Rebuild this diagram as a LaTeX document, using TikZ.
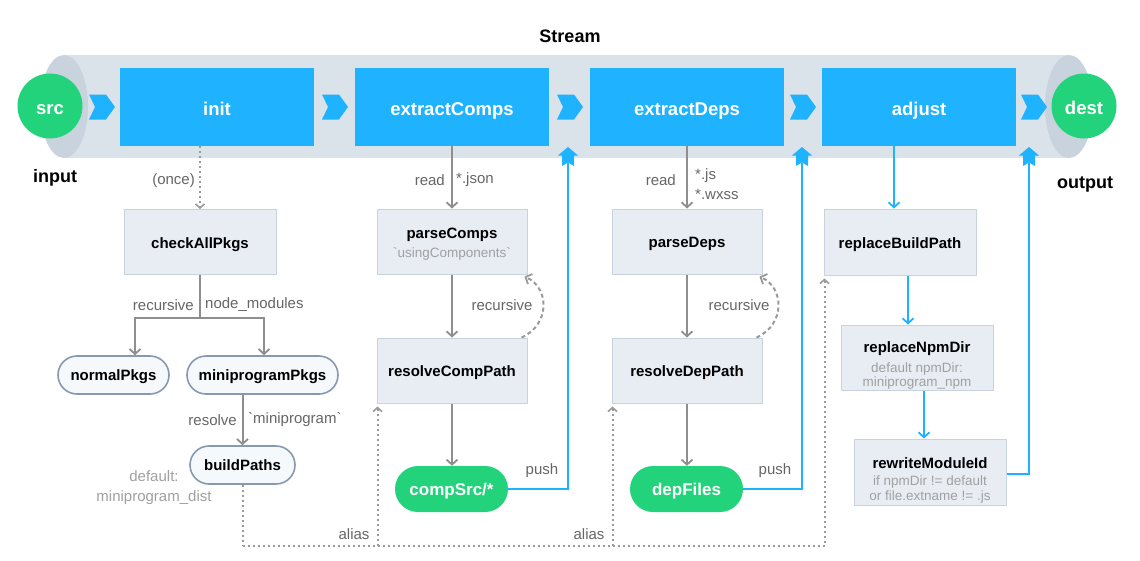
\documentclass[tikz,border=0pt]{standalone}
\usepackage{fontspec}
\setmainfont{Liberation Sans}[Ligatures=TeXOff]
\usetikzlibrary{arrows.meta,calc}
\definecolor{bl}{HTML}{1FB2FE}
\definecolor{gr}{HTML}{23D37B}
\definecolor{pipe}{HTML}{DAE2EA}
\definecolor{pipeend}{HTML}{C9D3DE}
\definecolor{boxf}{HTML}{E8EDF4}
\definecolor{boxd}{HTML}{C9D3DE}
\definecolor{pillf}{HTML}{F6F9FC}
\definecolor{pilld}{HTML}{8799AE}
\definecolor{arr}{HTML}{8E8E8E}
\definecolor{dotc}{HTML}{9A9A9A}
\definecolor{lab}{HTML}{666666}
\definecolor{subt}{HTML}{A0A0A0}
\begin{document}
\begin{tikzpicture}[x=1pt,y=-1pt,
  stage/.style={fill=bl, minimum width=194pt, minimum height=78pt, inner sep=0pt, text height=16pt, text depth=0pt, text=white, font=\fontsize{18.5}{20}\selectfont\bfseries},
  ball/.style={circle, fill=gr, minimum size=65pt, inner sep=0pt, text height=16pt, text depth=0pt, text=white, font=\fontsize{18.5}{20}\selectfont\bfseries},
  gbox/.style={fill=boxf, draw=boxd, line width=1pt, minimum width=152pt, minimum height=65pt, inner sep=0pt, text height=12pt, text depth=0pt, align=center, font=\fontsize{15}{17}\selectfont\bfseries},
  ttl/.style={inner sep=0pt, font=\fontsize{15}{17}\selectfont\bfseries},
  pill/.style={rounded corners=19pt, fill=pillf, draw=pilld, line width=1.6pt, minimum height=38pt, inner sep=0pt, text height=10.5pt, text depth=0pt, font=\fontsize{15}{17}\selectfont\bfseries},
  gpill/.style={rounded corners=23pt, fill=gr, minimum height=46pt, minimum width=113pt, inner sep=0pt, text height=12pt, text depth=0pt, text=white, font=\fontsize{17}{19}\selectfont\bfseries},
  lbl/.style={text=lab, inner sep=0pt, font=\fontsize{15}{20}\selectfont},
  sublbl/.style={text=subt, inner sep=0pt, align=center, font=\fontsize{13.5}{15}\selectfont},
  big/.style={text=black, inner sep=0pt, font=\fontsize{18}{20}\selectfont\bfseries},
  garr/.style={draw=arr, line width=2pt, -{Straight Barb[length=5pt,width=11pt,line width=1.8pt]}},
  garrn/.style={draw=arr, line width=2pt},
  barr/.style={draw=bl, line width=2pt, -{Straight Barb[length=5pt,width=11pt,line width=1.8pt]}},
  bline/.style={draw=bl, line width=2pt},
  dotarr/.style={draw=dotc, line width=2pt, dash pattern=on 2pt off 3pt, -{Straight Barb[length=4pt,width=9pt,line width=1.6pt]}},
  dotline/.style={draw=dotc, line width=2pt, dash pattern=on 2pt off 3pt},
  dasharr/.style={draw=dotc, line width=2pt, dash pattern=on 4pt off 3pt, -{Straight Barb[length=5pt,width=11pt,line width=1.8pt]}},
  uparr/.pic={\fill[bl] (0,0) -- (10,8.5) -- (6,8.5) -- (6,19) -- (0,15.5) -- (-6,19) -- (-6,8.5) -- (-10,8.5) -- cycle;},
  rarr/.pic={\fill[bl] (0,0) -- (-9,-12.5) -- (-26,-12.5) -- (-20,0) -- (-26,12.5) -- (-9,12.5) -- cycle;}
]
\useasboundingbox (0,0) rectangle (1140,560);
\fill[white] (0,0) rectangle (1140,560);
% pipe
\fill[pipe] (64,55) rectangle (1069,158);
\fill[pipeend] (64,106.5) ellipse [x radius=24, y radius=51.5];
\fill[pipeend] (1069,106.5) ellipse [x radius=24, y radius=51.5];
\node[big] (stream) at (570,36) {Stream};
\node[big] (input) at (55,178) {input};
\node[big] (output) at (1085,184) {output};
% main nodes
\node[ball] (src) at (50,106) {src};
\node[ball] (dest) at (1084,106) {dest};
\node[stage] (init) at (217,107) {init};
\node[stage] (ecomp) at (452,107) {extractComps};
\node[stage] (edeps) at (687,107) {extractDeps};
\node[stage] (adjust) at (919,107) {adjust};
\pic at (115,107) {rarr};
\pic at (348,107) {rarr};
\pic at (583,107) {rarr};
\pic at (816,107) {rarr};
\pic at (1047,107) {rarr};
% sub boxes
\node[gbox] (chk) at (200,242) {checkAllPkgs};
\node[gbox, minimum width=150pt] (pc) at (452,241.5) {};
\node[ttl] (pct) at (452,235) {parseComps};
\node[sublbl] (pcs) at (452,254) {`usingComponents`};
\node[gbox, minimum width=150pt] (pd) at (687,241.5) {parseDeps};
\node[gbox, minimum width=150pt] (rcp) at (452,370.5) {resolveCompPath};
\node[gbox, minimum width=150pt] (rdp) at (687,370.5) {resolveDepPath};
\node[gbox, minimum height=66pt] (rbp) at (900,242) {replaceBuildPath};
\node[gbox] (rnd) at (917,357.5) {};
\node[ttl] (rndt) at (917,349) {replaceNpmDir};
\node[sublbl, font=\fontsize{13.5}{13.5}\selectfont] (rnds) at (917,376) {default npmDir:\\miniprogram\_npm};
\node[gbox, minimum height=66pt] (rmi) at (930,472) {};
\node[ttl] (rmit) at (930,463) {rewriteModuleId};
\node[sublbl] (rmis) at (930,490) {if npmDir != default\\or file.extname != .js};
% pills
\node[pill, minimum width=111pt] (normal) at (113.5,375) {normalPkgs};
\node[pill, minimum width=151pt] (mini) at (262.5,375) {miniprogramPkgs};
\node[pill, minimum width=105pt] (bp) at (242.5,465) {buildPaths};
\node[gpill] (cs) at (451.5,489) {compSrc/*};
\node[gpill] (df) at (686.5,489) {depFiles};
% init branch
\draw[dotarr] (init.south -| chk.north) -- (chk.north);
\node[lbl, anchor=east] (once) at (195,181) {(once)};
\coordinate (br) at (200,318);
\draw[garrn] (chk.south) -- (br);
\draw[garr] (br) -| ([xshift=21.5pt]normal.north);
\draw[garr] (br) -| ([xshift=1.5pt]mini.north);
\node[lbl, anchor=east] (lrec) at (194,305) {recursive};
\node[lbl, anchor=west] (lnm) at (205,305) {node\_modules};
\draw[garr] (bp.north |- mini.south) -- (bp.north);
\node[lbl, anchor=east] (lres) at (237,420) {resolve};
\node[lbl, anchor=west] (lmp) at (248,420) {`miniprogram`};
\node[lbl, text=subt, align=center] (ldef) at (154,488) {default:\\miniprogram\_dist};
% comps column
\draw[garr] (ecomp.south) -- (pc.north);
\node[lbl, anchor=east] (lread1) at (445,180) {read};
\node[lbl, anchor=west] (ljson) at (456,180) {*.json};
\draw[garr] (pc.south) -- (rcp.north);
\draw[garr] (rcp.south) -- (rcp.south |- cs.north);
\draw[dasharr] ([xshift=-6pt]rcp.north east) .. controls (550,325) and (550,288) .. ([xshift=-3pt,yshift=-2pt]pc.south east);
\node[lbl] (lrec1) at (502,305) {recursive};
% deps column
\draw[garr] (edeps.south) -- (pd.north);
\node[lbl, anchor=east] (lread2) at (676,180) {read};
\node[lbl, anchor=west, align=left] (ljs) at (695,184) {*.js\\*.wxss};
\draw[garr] (pd.south) -- (rdp.north);
\draw[garr] (rdp.south) -- (rdp.south |- df.north);
\draw[dasharr] ([xshift=-6pt]rdp.north east) .. controls (785,325) and (785,288) .. ([xshift=-3pt,yshift=-2pt]pd.south east);
\node[lbl] (lrec2) at (739,305) {recursive};
% push
\coordinate (up1) at (568,147);
\coordinate (up2) at (802,147);
\coordinate (up3) at (1029,147);
\draw[bline] (cs.east) -| ([yshift=-16pt]up1);
\draw[bline] (df.east) -| ([yshift=-16pt]up2);
\draw[bline] ([yshift=-2pt]rmi.east) -| ([yshift=-16pt]up3);
\pic at (up1) {uparr};
\pic at (up2) {uparr};
\pic at (up3) {uparr};
\node[lbl] (lpush1) at (542,471) {push};
\node[lbl] (lpush2) at (775,471) {push};
% adjust column
\draw[barr] ([xshift=-6pt]rbp.north |- adjust.south) -- ([xshift=-6pt]rbp.north);
\draw[barr] ([xshift=8pt]rbp.south) -- ([xshift=8pt]rbp.south |- rnd.north);
\draw[barr] ([xshift=7pt]rnd.south) -- ([xshift=7pt]rnd.south |- rmi.north);
% alias
\coordinate (al) at (242.5,546);
\draw[dotline] (bp.south) -- (al);
\draw[dotarr] (al) -| ([xshift=1pt,yshift=-3pt]rbp.south west);
\draw[dotarr] ([xshift=1pt]rcp.south west |- al) -- ([xshift=1pt,yshift=-3pt]rcp.south west);
\draw[dotarr] ([xshift=1pt]rdp.south west |- al) -- ([xshift=1pt,yshift=-3pt]rdp.south west);
\node[lbl] (lal1) at (354,534) {alias};
\node[lbl] (lal2) at (589,534) {alias};
\end{tikzpicture}
\end{document}
